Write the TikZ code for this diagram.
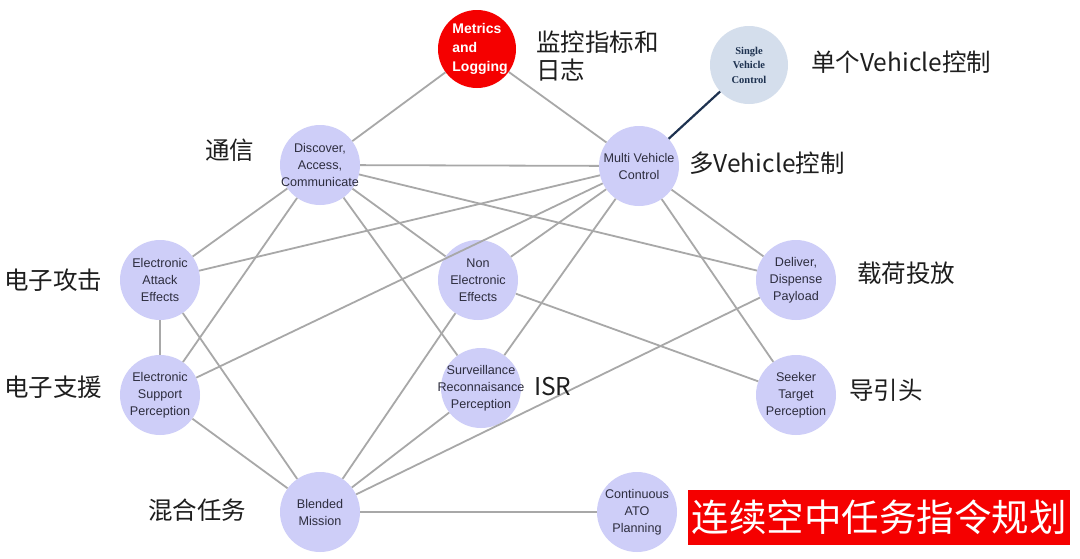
\documentclass[tikz,border=0pt]{standalone}
\usepackage{fontspec}
\setmainfont{Liberation Sans}
\newfontfamily\cjk{Noto Sans CJK SC}
\newfontfamily\serifb{Liberation Serif}
\newcommand{\cnode}[4][]{%
  \node[nd,#1] (#2) at (#3) {};
  \node[ndtxt,#1] (#2-t) at (#3) {#4};}
\begin{document}
\begin{tikzpicture}[x=1pt,y=-1pt,
  nd/.style={circle,fill=lav,draw=none,minimum size=80pt,inner sep=0pt},
  ndtxt/.style={inner sep=0pt,align=center,text=ndtext,font=\fontsize{12.6}{17}\selectfont},
  edge/.style={draw=edgegray,line width=1.8pt},
  lab/.style={anchor=west,inner sep=0pt,text=labtext,font=\cjk\fontsize{24.5}{28}\selectfont}]
\definecolor{lav}{RGB}{206,206,248}
\definecolor{ndtext}{RGB}{45,45,62}
\definecolor{edgegray}{RGB}{168,168,168}
\definecolor{labtext}{RGB}{30,30,30}
\definecolor{svcfill}{RGB}{212,222,236}
\definecolor{navy}{RGB}{30,50,80}
\definecolor{redfill}{RGB}{245,0,0}
\useasboundingbox[fill=white] (0,0) rectangle (1080,558);

\node[nd,fill=redfill,minimum size=78pt] (met) at (477,49) {};
\node[ndtxt,align=left,text=white,font=\bfseries\fontsize{14}{19}\selectfont] (met-t) at (480,49) {Metrics\\and\\Logging};
\node[nd,fill=svcfill,minimum size=78pt] (svc) at (749,65) {};
\node[ndtxt,text=navy,font=\serifb\bfseries\fontsize{10.5}{14.5}\selectfont] (svc-t) at (749,65) {Single\\Vehicle\\Control};
\cnode{dac}{320,165}{Discover,\\Access,\\Communicate}
\cnode{mvc}{639,166}{Multi Vehicle\\Control}
\cnode{eae}{160,280}{Electronic\\Attack\\Effects}
\cnode{nee}{478,280}{Non\\Electronic\\Effects}
\cnode{del}{796,280}{Deliver,\\Dispense\\Payload}
\cnode{esp}{160,395}{Electronic\\Support\\Perception}
\cnode{srp}{481,388}{Surveillance\\Reconnaisance\\Perception}
\cnode{see}{796,395}{Seeker\\Target\\Perception}
\cnode{bld}{320,512}{Blended\\Mission}
\cnode{ato}{637,512}{Continuous\\ATO\\Planning}

\draw[edge] (met) -- (dac);
\draw[edge] (met) -- (mvc);
\draw[draw=navy,line width=2.2pt] (svc) -- (mvc);
\draw[edge] (dac) -- (mvc);
\draw[edge] (dac) -- (eae);
\draw[edge] (dac) -- (esp);
\draw[edge] (dac) -- (nee);
\draw[edge] (dac) -- (srp);
\draw[edge] (dac) -- (del);
\draw[edge] (mvc) -- (eae);
\draw[edge] (mvc) -- (esp);
\draw[edge] (mvc) -- (nee);
\draw[edge] (mvc) -- (srp);
\draw[edge] (mvc) -- (del);
\draw[edge] (mvc) -- (see);
\draw[edge] (eae) -- (esp);
\draw[edge] (eae) -- (bld);
\draw[edge] (esp) -- (bld);
\draw[edge] (nee) -- (bld);
\draw[edge] (nee) -- (see);
\draw[edge] (srp) -- (bld);
\draw[edge] (del) -- (bld);
\draw[edge] (bld) -- (ato);

\node[lab] (l1) at (536,42) {监控指标和};
\node[lab] (l1b) at (536,70) {日志};
\node[lab] (l2) at (811,62) {单个Vehicle控制};
\node[lab] (l3) at (205,150) {通信};
\node[lab] (l4) at (689,163) {多Vehicle控制};
\node[lab] (l5) at (4,280) {电子攻击};
\node[lab] (l6) at (857,273) {载荷投放};
\node[lab] (l7) at (4,387) {电子支援};
\node[lab] (l8) at (534,387) {ISR};
\node[lab] (l9) at (849,390) {导引头};
\node[lab] (l10) at (148,510) {混合任务};
\node[fill=redfill,text=white,font=\cjk\fontsize{37.5}{40}\selectfont,minimum width=382pt,minimum height=55pt,inner sep=0pt] (red) at (879,517.5) {连续空中任务指令规划};
\end{tikzpicture}
\end{document}
